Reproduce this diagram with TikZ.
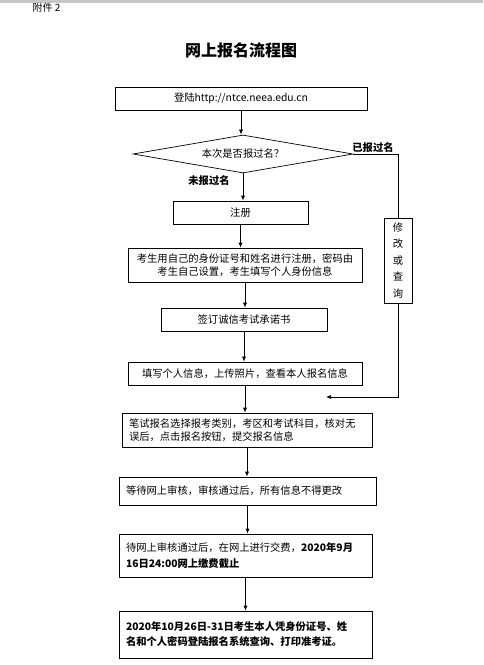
\documentclass[tikz,border=0pt]{standalone}
\usepackage{fontspec}
\setmainfont{Noto Sans CJK SC}
\usetikzlibrary{arrows.meta,positioning,shapes.geometric}

\begin{document}
\begin{tikzpicture}[
  x=1pt, y=-1pt,
  box/.style={draw, line width=0.7pt, align=center, inner sep=0pt, font=\fontsize{10.3}{13.5}\selectfont},
  lbox/.style={box, align=left, inner xsep=7pt},
  decide/.style={draw, line width=0.7pt, diamond, shape aspect=5.8, inner sep=0pt, minimum width=220pt, minimum height=38pt, font=\fontsize{10.3}{12}\selectfont},
  tag/.style={font=\bfseries\fontsize{10.3}{12}\selectfont},
  arrow/.style={-{Latex[length=5pt,width=4pt]}, line width=0.7pt},
  line/.style={line width=0.7pt}
]
\useasboundingbox (0,0) rectangle (483,665);
\fill[black!22] (0,0) rectangle (483,3);
\node[anchor=west, font=\fontsize{10}{12}\selectfont] (annex) at (29,8) {附件 2};
\node[font=\bfseries\fontsize{16}{18}\selectfont] (title) at (241,50) {网上报名流程图};

\node[box, minimum width=252pt, minimum height=23pt] (login) at (241,98.5) {登陆http://ntce.neea.edu.cn};
\node[decide] (dia) at (243,154) {本次是否报过名？};
\node[box, minimum width=135pt, minimum height=23pt] (reg) at (240.5,212.5) {注册};
\node[box, minimum width=234pt, minimum height=34pt] (idbox) at (245,265) {考生用自己的身份证号和姓名进行注册，密码由\\考生自己设置，考生填写个人身份信息};
\node[box, minimum width=28pt, minimum height=85pt, font=\fontsize{10.3}{16.5}\selectfont] (chk) at (398,260.5) {修\\改\\或\\查\\询};
\node[box, minimum width=166pt, minimum height=23pt] (sign) at (244,319.5) {签订诚信考试承诺书};
\node[box, minimum width=234pt, minimum height=23pt] (info) at (245,373.5) {填写个人信息，上传照片，查看本人报名信息};
\node[lbox, text width=236pt, minimum height=34pt] (exam) at (247,430) {笔试报名选择报考类别，考区和考试科目，核对无\\误后，点击报名按钮，提交报名信息};
\node[lbox, text width=243pt, minimum height=28pt] (wait) at (247.5,491) {等待网上审核，审核通过后，所有信息不得更改};
\node[lbox, text width=239pt, minimum height=43pt, font=\fontsize{10.3}{16}\selectfont] (fee) at (245.5,555.5) {待网上审核通过后，在网上进行交费，\textbf{2020年9月}\\\textbf{16日24:00网上缴费截止}};
\node[lbox, text width=239pt, minimum height=47pt, font=\bfseries\fontsize{10.3}{15}\selectfont] (card) at (245.5,634.5) {2020年10月26日-31日考生本人凭身份证号、姓\\名和个人密码登陆报名系统查询、打印准考证。};

\node[tag] (done) at (373,148) {已报过名};
\node[tag] (new) at (209,181) {未报过名};
\coordinate (back) at (326,397);

% main flow
\draw[arrow] (login.south) -- (login.south |- dia.north);
\draw[arrow] (dia.south) -- (dia.south |- reg.north);
\draw[arrow] (reg.south) -- (reg.south |- idbox.north);
\draw[arrow] (idbox.south) -- (idbox.south |- sign.north);
\draw[arrow] (sign.south) -- (sign.south |- info.north);
\draw[arrow] (info.south) -- (info.south |- exam.north);
\draw[arrow] (exam.south) -- (exam.south |- wait.north);
\draw[arrow] (wait.south) -- (wait.south |- fee.north);
\draw[arrow] (fee.south) -- (fee.south |- card.north);
% side branch
\draw[line] (dia.east) -| (chk.north);
\draw[arrow] (chk.south) |- (back);
\end{tikzpicture}
\end{document}
